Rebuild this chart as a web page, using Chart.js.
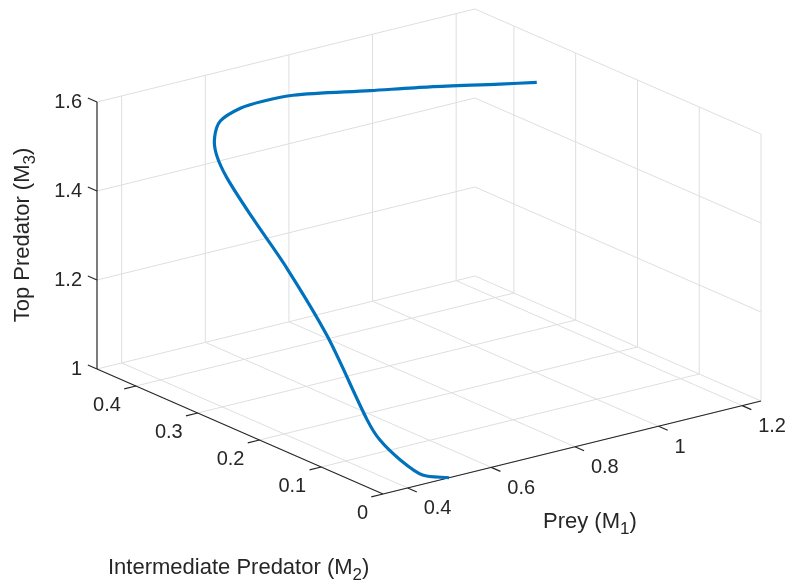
<!DOCTYPE html>
<html>
<head>
<meta charset="utf-8">
<script src="https://cdn.jsdelivr.net/npm/chart.js@4.4.0/dist/chart.umd.min.js"></script>
<style>
  body { margin: 0; background: #fff; }
  canvas { display: block; }
</style>
</head>
<body>
<canvas id="chart" width="785" height="587"></canvas>
<script>
// ── Data: trajectory (M1, M2, M3) ──────────────────────────────
const prey         = [1.245, 1.151, 0.997, 0.864, 0.702, 0.621, 0.548, 0.463, 0.405, 0.377, 0.367, 0.360, 0.376, 0.388, 0.390, 0.386, 0.412, 0.440, 0.499];
const intermediate = [0.363, 0.359, 0.368, 0.375, 0.390, 0.384, 0.371, 0.346, 0.316, 0.294, 0.270, 0.224, 0.179, 0.122, 0.059, 0.036, 0.020, 0.003, 0.000];
const topPredator  = [1.496, 1.516, 1.540, 1.558, 1.576, 1.585, 1.594, 1.600, 1.594, 1.576, 1.540, 1.480, 1.390, 1.270, 1.120, 1.090, 1.048, 1.018, 1.000];

// ── Axes ──────────────────────────────────────────────────────
const preyTicks  = [0.4, 0.6, 0.8, 1, 1.2];
const interTicks = [0, 0.1, 0.2, 0.3, 0.4];
const topTicks   = [1, 1.2, 1.4, 1.6];
const preyLim  = [0.341, 1.245];
const interLim = [0, 0.463];
const topLim   = [1, 1.6];

// ── Projection (orthographic, view like MATLAB az -37.5) ─────────
const FRAME = { w: 785, h: 587 };
const ORIGIN = [383, 494];   // corner (M1 min, M2 min, M3 min)
const E_U = [378, -93];      // full M1 range
const E_V = [-286, -125];    // full M2 range
const E_W = [0, -267];       // full M3 range

const GRID = 'rgb(222,222,222)';
const AXIS = '#262626';
const LINE = '#0072BD';
const FONT = '"Liberation Sans", Arial, Helvetica, sans-serif';

function norm(v, lim) { return (v - lim[0]) / (lim[1] - lim[0]); }

function proj(m1, m2, m3) {
  const u = norm(m1, preyLim), v = norm(m2, interLim), w = norm(m3, topLim);
  return {
    x: ORIGIN[0] + u * E_U[0] + v * E_V[0] + w * E_W[0],
    y: ORIGIN[1] + u * E_U[1] + v * E_V[1] + w * E_W[1],
  };
}

// lower order = drawn on top
function seg(a, b, color, width, order) {
  return {
    data: [proj(...a), proj(...b)],
    showLine: true,
    borderColor: color,
    borderWidth: width,
    pointRadius: 0,
    pointHoverRadius: 0,
    order,
  };
}

// ── Build datasets ─────────────────────────────────────────────
const [x0, x1] = preyLim, [y0, y1] = interLim, [z0, z1] = topLim;
const datasets = [];

// floor
preyTicks.forEach(m => datasets.push(seg([m, y0, z0], [m, y1, z0], GRID, 1, 3)));
interTicks.forEach(m => datasets.push(seg([x0, m, z0], [x1, m, z0], GRID, 1, 3)));
// back wall at M2 max
preyTicks.forEach(m => datasets.push(seg([m, y1, z0], [m, y1, z1], GRID, 1, 3)));
topTicks.forEach(m => datasets.push(seg([x0, y1, m], [x1, y1, m], GRID, 1, 3)));
// back wall at M1 max
interTicks.forEach(m => datasets.push(seg([x1, m, z0], [x1, m, z1], GRID, 1, 3)));
topTicks.forEach(m => datasets.push(seg([x1, y0, m], [x1, y1, m], GRID, 1, 3)));

// axis lines + ticks
const tz = 0.032 * (y1 - y0), ty = 0.031 * (x1 - x0), tx = 0.032 * (y1 - y0);
datasets.push(seg([x0, y1, z0], [x0, y1, z1], AXIS, 1.2, 2));
datasets.push(seg([x0, y0, z0], [x0, y1, z0], AXIS, 1.2, 2));
datasets.push(seg([x0, y0, z0], [x1, y0, z0], AXIS, 1.2, 2));
topTicks.forEach(m => datasets.push(seg([x0, y1, m], [x0, y1 + tz, m], AXIS, 1.2, 2)));
interTicks.forEach(m => datasets.push(seg([x0, m, z0], [x0 - ty, m, z0], AXIS, 1.2, 2)));
preyTicks.forEach(m => datasets.push(seg([m, y0, z0], [m, y0 - tx, z0], AXIS, 1.2, 2)));

// trajectory
datasets.push({
  data: prey.map((m, i) => proj(m, intermediate[i], topPredator[i])),
  showLine: true,
  borderColor: LINE,
  borderWidth: 3.2,
  tension: 0.3,
  pointRadius: 0,
  pointHoverRadius: 0,
  borderCapStyle: 'butt',
  borderJoinStyle: 'round',
  order: 1,
});

// ── Text: tick labels and axis titles ───────────────────────────
function drawSub(ctx, main, sub, tail, x, y, size, align) {
  const small = Math.round(size * 0.78);
  ctx.font = `${size}px ${FONT}`;
  const wMain = ctx.measureText(main).width, wTail = ctx.measureText(tail).width;
  ctx.font = `${small}px ${FONT}`;
  const wSub = ctx.measureText(sub).width;
  let sx = x;
  if (align === 'center') sx = x - (wMain + wSub + wTail) / 2;
  ctx.textAlign = 'left';
  ctx.textBaseline = 'alphabetic';
  ctx.font = `${size}px ${FONT}`;
  ctx.fillText(main, sx, y);
  ctx.font = `${small}px ${FONT}`;
  ctx.fillText(sub, sx + wMain, y + size * 0.28);
  ctx.font = `${size}px ${FONT}`;
  ctx.fillText(tail, sx + wMain + wSub, y);
}

const axisText = {
  id: 'axisText',
  afterDatasetsDraw(chart) {
    const { ctx } = chart;
    const sx = chart.scales.x, sy = chart.scales.y;
    const at = (m1, m2, m3) => {
      const p = proj(m1, m2, m3);
      return [sx.getPixelForValue(p.x), sy.getPixelForValue(p.y)];
    };
    ctx.save();
    ctx.fillStyle = AXIS;
    ctx.font = `20px ${FONT}`;
    ctx.textBaseline = 'middle';

    ctx.textAlign = 'right';
    topTicks.forEach(m => {
      const [px, py] = at(x0, y1, m);
      ctx.fillText(String(m), px - 15, py);
    });
    interTicks.forEach(m => {
      const [px, py] = at(x0, m, z0);
      ctx.fillText(String(m), px - 15, py + 19);
    });
    ctx.textAlign = 'left';
    preyTicks.forEach(m => {
      const [px, py] = at(m, y0, z0);
      ctx.fillText(String(m), px + 16, py + 21);
    });

    drawSub(ctx, 'Prey (M', '1', ')', 543, 528, 22, 'left');
    drawSub(ctx, 'Intermediate Predator (M', '2', ')', 108, 574, 22, 'left');
    ctx.save();
    ctx.translate(29, 235);
    ctx.rotate(-Math.PI / 2);
    drawSub(ctx, 'Top Predator (M', '3', ')', 0, 0, 22, 'center');
    ctx.restore();
    ctx.restore();
  }
};

new Chart(document.getElementById('chart'), {
  type: 'scatter',
  data: { datasets },
  options: {
    responsive: false,
    animation: false,
    devicePixelRatio: 1,
    layout: { padding: 0 },
    plugins: { legend: { display: false }, tooltip: { enabled: false } },
    events: [],
    scales: {
      x: { type: 'linear', display: false, min: 0, max: FRAME.w },
      y: { type: 'linear', display: false, min: 0, max: FRAME.h, reverse: true },
    },
  },
  plugins: [axisText],
});
</script>
</body>
</html>
